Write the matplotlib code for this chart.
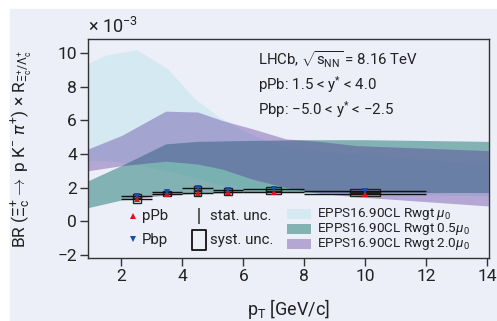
import matplotlib
matplotlib.use("Agg")
import matplotlib.pyplot as plt
import numpy as np
from matplotlib.lines import Line2D
from matplotlib.patches import Rectangle
from matplotlib.path import Path

plt.rcParams['font.family'] = ['Roboto', 'DejaVu Sans']
plt.rcParams['mathtext.fontset'] = 'custom'
plt.rcParams['mathtext.rm'] = 'Roboto'
plt.rcParams['mathtext.it'] = 'Roboto:italic'

# all values in units of 1e-3
# EPPS16 reweighted bands
cyan_x = [0.9, 1.5, 2.5, 3.5, 4.4, 5.2, 6.0, 7.0, 9.0, 11.0, 14.05]
cyan_hi = [9.4, 9.9, 10.2, 9.1, 7.3, 6.2, 5.4, 4.6, 4.1, 3.8, 3.4]
cyan_lo = [3.6, 3.6, 3.4, 3.0, 2.6, 2.2, 2.0, 1.8, 1.7, 1.6, 1.5]

teal_x = [0.9, 2.1, 3.45, 4.5, 6.0, 8.0, 10.0, 12.0, 14.05]
teal_hi = [2.4, 3.4, 4.6, 4.75, 4.8, 4.85, 4.85, 4.8, 4.75]
teal_lo = [0.8, 1.3, 1.55, 1.65, 1.7, 1.7, 1.7, 1.7, 1.7]

purp_x = [0.9, 2.0, 3.45, 4.5, 5.3, 6.3, 7.4, 8.5, 9.7, 14.05]
purp_hi = [4.3, 5.1, 6.55, 6.5, 6.0, 5.5, 4.9, 4.75, 4.5, 4.2]
purp_lo = [3.0, 3.3, 3.57, 3.4, 3.1, 2.5, 2.0, 1.65, 1.45, 0.9]

band_labels = ['EPPS16.90CL Rwgt $\\mu_{0}$', 'EPPS16.90CL Rwgt 0.5$\\mu_{0}$',
               'EPPS16.90CL Rwgt 2.0$\\mu_{0}$']

# measured points
pt = [2.5, 3.5, 4.5, 5.5, 7.0, 10.0]
pt_hw = [0.5, 0.5, 0.5, 0.5, 1.0, 2.0]
ppb = [1.30, 1.62, 1.65, 1.72, 1.75, 1.62]
ppb_stat = [0.08, 0.06, 0.08, 0.06, 0.07, 0.07]
ppb_syst = [0.20, 0.12, 0.18, 0.15, 0.15, 0.12]
pbp = [1.50, 1.72, 1.95, 1.85, 1.92, 1.78]
pbp_stat = [0.08, 0.06, 0.08, 0.06, 0.07, 0.07]
pbp_syst = [0.12, 0.10, 0.15, 0.12, 0.12, 0.12]

lav = '#eceef8'
txt = '#222222'
band_cols = ['#c4e6ef', '#3c8a86', '#4d2592']
band_alpha = [0.6, 0.6, 0.35]

fig = plt.figure(figsize=(4.97, 3.21), dpi=100, facecolor='white')
fig.patches.append(Rectangle((10/497, 0), 1, (321-9)/321, transform=fig.transFigure,
                             color=lav, zorder=-10))
ax = fig.add_axes([88/497, 1-258/321, (489-88)/497, (258-39)/321])
ax.set_facecolor(lav)

bands = [(cyan_x, cyan_lo, cyan_hi), (teal_x, teal_lo, teal_hi), (purp_x, purp_lo, purp_hi)]
for i, (bx, lo, hi) in enumerate(bands):
    ax.fill_between(bx, lo, hi, color=band_cols[i], alpha=band_alpha[i], lw=0, zorder=1+i)

# syst boxes
for vals, syst in [(ppb, ppb_syst), (pbp, pbp_syst)]:
    for x, hw, y, s in zip(pt, pt_hw, vals, syst):
        ax.add_patch(Rectangle((x - hw/4, y - s), hw/2, 2*s, fill=False,
                               edgecolor='#222222', lw=1, zorder=5))

ax.errorbar(pt, ppb, xerr=pt_hw, yerr=ppb_stat, fmt='none', ecolor='#111111',
            elinewidth=1, capsize=0, zorder=6)
ax.errorbar(pt, pbp, xerr=pt_hw, yerr=pbp_stat, fmt='none', ecolor='#111111',
            elinewidth=1, capsize=0, zorder=6)
ax.plot(pt, ppb, '^', color='#e0101a', ms=5, mew=0, zorder=7)
ax.plot(pt, pbp, 'v', color='#1550a8', ms=5, mew=0, zorder=7)

ax.set_xlim(0.9, 14.07)
ax.set_ylim(-2.2, 10.85)
ax.set_xticks([2, 4, 6, 8, 10, 12, 14])
ax.set_yticks([-2, 0, 2, 4, 6, 8, 10])
ax.tick_params(axis='both', direction='out', length=6, width=1, color='#333333',
               labelsize=12.5, labelcolor=txt, pad=2)
for sp in ax.spines.values():
    sp.set_color('#333333')
    sp.set_linewidth(1)

ax.set_xlabel(r'p$_{\mathrm{T}}$ [GeV/c]', fontsize=13, color=txt)
ax.xaxis.set_label_coords(0.5, -0.18)
ax.set_ylabel(r'BR ($\Xi_{\mathrm{c}}^{+}\rightarrow$ p K$^{-}$ $\pi^{+}$) $\times$ R$_{\Xi_{\mathrm{c}}^{+}/\Lambda_{\mathrm{c}}^{+}}$',
              fontsize=12.5, color=txt)
ax.yaxis.set_label_coords(-0.135, 0.5)
fig.text(88/497, 1-33/321, '\u00d7 10$^{-3}$', fontsize=13, color=txt, va='baseline')

ax.text(0.424, 0.904, r'LHCb, $\sqrt{\mathrm{s}_{\mathrm{NN}}}$ = 8.16 TeV', transform=ax.transAxes,
        fontsize=10.8, va='center', color=txt)
ax.text(0.424, 0.790, r'pPb: 1.5 < y$^{*}$ < 4.0', transform=ax.transAxes,
        fontsize=10.8, va='center', color=txt)
ax.text(0.424, 0.676, 'Pbp: \u22125.0 < y$^{*}$ < \u22122.5', transform=ax.transAxes,
        fontsize=10.8, va='center', color=txt)

# legend, drawn by hand in axes fraction
def fx(px):
    return (px - 88) / 401

def fy(py):
    return (258 - py) / 219

box_marker = Path([(-0.35, -0.5), (0.35, -0.5), (0.35, 0.5), (-0.35, 0.5), (-0.35, -0.5)],
                  [Path.MOVETO, Path.LINETO, Path.LINETO, Path.LINETO, Path.CLOSEPOLY])
kw = dict(transform=ax.transAxes, clip_on=False, ls='none', zorder=8)
ax.add_line(Line2D([fx(133)], [fy(216)], marker='^', color='#e0101a', ms=5, mew=0, **kw))
ax.add_line(Line2D([fx(133)], [fy(239)], marker='v', color='#1550a8', ms=5, mew=0, **kw))
ax.add_line(Line2D([fx(199)], [fy(216)], marker='|', color='#444444', ms=11, mew=1.2, **kw))
ax.add_line(Line2D([fx(199)], [fy(240)], marker=box_marker, mfc='none', mec='#111111',
                   ms=14, mew=1.3, **kw))
for lab, px, py in [('pPb', 142, 216), ('Pbp', 142, 240), ('stat. unc.', 210, 216),
                    ('syst. unc.', 210, 240)]:
    ax.text(fx(px), fy(py), lab, transform=ax.transAxes, fontsize=10.8, va='center',
            color=txt, zorder=8)
for i, lab in enumerate(band_labels):
    py = 214 + 15 * i
    ax.add_patch(Rectangle((fx(287), fy(py + 5)), fx(311) - fx(287), fy(py - 5) - fy(py + 5),
                           transform=ax.transAxes, facecolor=band_cols[i], alpha=band_alpha[i],
                           lw=0, zorder=8))
    ax.text(fx(317), fy(py), lab, transform=ax.transAxes, fontsize=9.7, va='center',
            color=txt, zorder=8)

fig.savefig('out.png', dpi=100, facecolor='white')
